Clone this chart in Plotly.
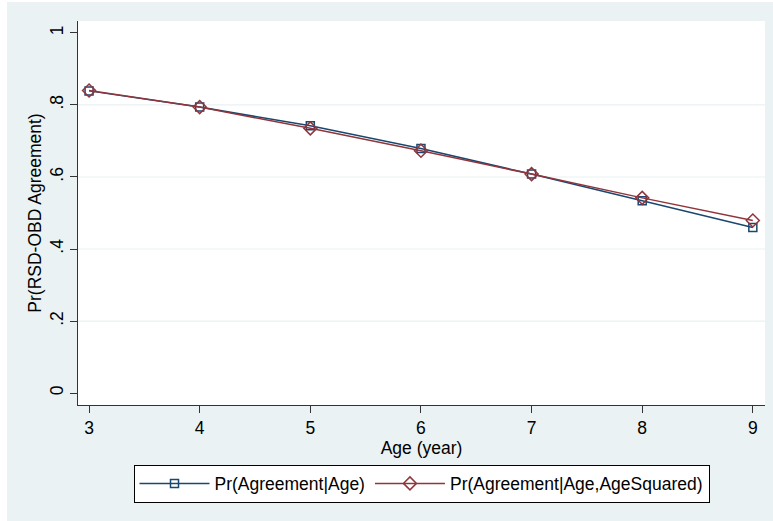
import plotly.graph_objects as go

# Predicted probability of RSD-OBD agreement by age
ages = [3, 4, 5, 6, 7, 8, 9]
pr_age = [0.839, 0.794, 0.742, 0.679, 0.608, 0.534, 0.460]
pr_age_sq = [0.840, 0.794, 0.735, 0.673, 0.608, 0.542, 0.479]

y_tick_vals = [0, 0.2, 0.4, 0.6, 0.8, 1]
y_tick_text = ["0", ".2", ".4", ".6", ".8", "1"]
grid_vals = [0.2, 0.4, 0.6, 0.8]
x_tick_vals = [3, 4, 5, 6, 7, 8, 9]

BLUE = "#1a476f"
RED = "#90353b"
BG = "#eaf2f3"
FONT = "Liberation Sans, Arial, sans-serif"
FS = 17.5

fig = go.Figure()
fig.add_trace(go.Scatter(
    x=ages, y=pr_age, mode="lines+markers", name="Pr(Agreement|Age)",
    line=dict(color=BLUE, width=1.5),
    marker=dict(symbol="square-open", size=8, color=BLUE, line=dict(width=1.5)),
))
fig.add_trace(go.Scatter(
    x=ages, y=pr_age_sq, mode="lines+markers", name="Pr(Agreement|Age,AgeSquared)",
    line=dict(color=RED, width=1.5),
    marker=dict(symbol="diamond-open", size=10, color=RED, line=dict(width=1.5)),
))

# light horizontal grid at interior ticks only
for g in grid_vals:
    fig.add_shape(type="line", xref="paper", x0=0, x1=1, yref="y", y0=g, y1=g,
                  line=dict(color=BG, width=1.2), layer="below")

# thin white frame around the graph region
fig.add_shape(type="rect", xref="paper", yref="paper",
              x0=-78 / 687, x1=-71 / 687, y0=-116 / 384, y1=1 + 21 / 384,
              fillcolor="white", line=dict(width=0), layer="below")
fig.add_shape(type="rect", xref="paper", yref="paper",
              x0=-78 / 687, x1=1 + 8 / 687, y0=1 + 19 / 384, y1=1 + 21 / 384,
              fillcolor="white", line=dict(width=0), layer="below")

fig.update_layout(
    width=773, height=521,
    margin=dict(l=78, r=8, t=21, b=116, autoexpand=False),
    paper_bgcolor=BG, plot_bgcolor="white",
    font=dict(family=FONT, size=FS, color="black"),
    showlegend=True,
    legend=dict(
        orientation="h", x=0.5, xanchor="center", y=-0.155, yanchor="top",
        bgcolor="white", bordercolor="black", borderwidth=1,
        font=dict(size=FS), itemwidth=70,
    ),
    xaxis=dict(
        range=[2.9, 9.11], tickvals=x_tick_vals, showgrid=False, zeroline=False,
        showline=True, linecolor="#333333", linewidth=1,
        ticks="outside", ticklen=7, tickcolor="#333333",
        tickfont=dict(size=FS),
        title=dict(text="Age (year)", font=dict(size=FS), standoff=0),
    ),
    yaxis=dict(
        range=[-0.033, 1.033], tickvals=y_tick_vals, ticktext=y_tick_text,
        tickangle=-90, showgrid=False, zeroline=False,
        showline=True, linecolor="#333333", linewidth=1,
        ticks="outside", ticklen=7, tickcolor="#333333",
        tickfont=dict(size=FS),
        title=dict(text="Pr(RSD-OBD Agreement)", font=dict(size=FS), standoff=0),
    ),
)

fig.write_html("out.html")
